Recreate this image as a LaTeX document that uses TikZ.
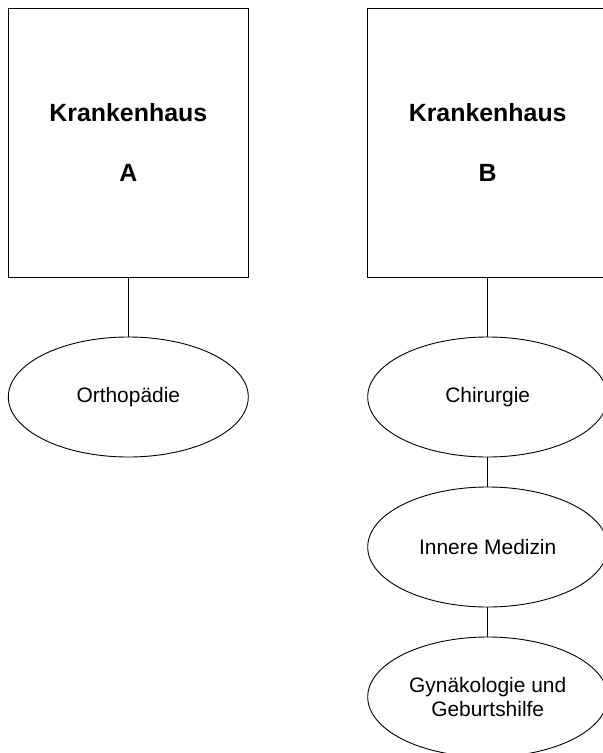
\documentclass[tikz,border=0pt]{standalone}
\usepackage{fontspec}
\setmainfont{Liberation Sans}
\usetikzlibrary{shapes.geometric}
\begin{document}
\begin{tikzpicture}[x=1bp,y=-1bp,
  hospital/.style={draw, line width=0.9bp, minimum width=240bp, minimum height=269bp,
    inner sep=0pt, align=center, font=\fontsize{25}{30}\selectfont\bfseries},
  dept/.style={draw, ellipse, line width=0.9bp, minimum width=240bp, minimum height=120bp,
    inner sep=0pt, align=center, font=\fontsize{21}{25}\selectfont},
  link/.style={line width=0.8bp}]
  \clip (0,0) rectangle (603,753);
  \fill[white] (0,0) rectangle (603,753);

  % hospitals
  \node[hospital] (hA) at (128.3,142.8) {Krankenhaus\\[30bp]A};
  \node[hospital] (hB) at (487.7,142.8) {Krankenhaus\\[30bp]B};

  % departments
  \node[dept] (orth) at (128.3,397) {Orthop\"adie};
  \node[dept] (chir) at (487.7,397) {Chirurgie};
  \node[dept] (inner) at (487.7,547) {Innere Medizin};
  \node[dept] (gyn) at (487.7,697) {Gyn\"akologie und\\Geburtshilfe};

  % connectors
  \draw[link] (hA.south) -- (orth.north);
  \draw[link] (hB.south) -- (chir.north);
  \draw[link] (chir.south) -- (inner.north);
  \draw[link] (inner.south) -- (gyn.north);
\end{tikzpicture}
\end{document}
